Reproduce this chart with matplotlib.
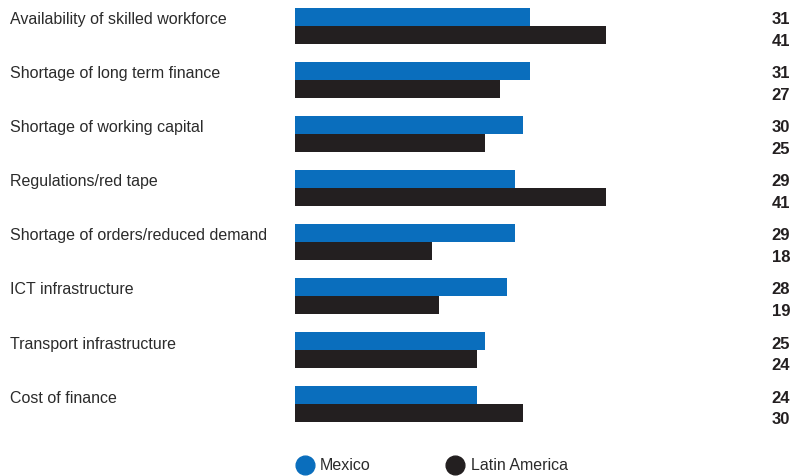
import matplotlib
matplotlib.use("Agg")
import matplotlib.pyplot as plt
from matplotlib.lines import Line2D
import matplotlib.transforms as mtransforms

categories = [
    "Availability of skilled workforce",
    "Shortage of long term finance",
    "Shortage of working capital",
    "Regulations/red tape",
    "Shortage of orders/reduced demand",
    "ICT infrastructure",
    "Transport infrastructure",
    "Cost of finance",
]
mexico = [31, 31, 30, 29, 29, 28, 25, 24]
latin_america = [41, 27, 25, 41, 18, 19, 24, 30]
series_names = ["Mexico", "Latin America"]

BLUE = "#0A6EBD"
DARK = "#231F20"
TEXT = "#2B2B2B"

plt.rcParams["font.family"] = ["Liberation Sans", "DejaVu Sans"]
FS = 11.5

W, H = 805, 477
fig = plt.figure(figsize=(W / 100, H / 100), dpi=100)

left_px, right_px = 295, 790
top_px, bottom_px = 8.4, 423.5
ax = fig.add_axes([left_px / W, 1 - bottom_px / H,
                   (right_px - left_px) / W, (bottom_px - top_px) / H])

bar_h = 1 / 3
ys = list(range(len(categories)))
ax.barh([y - bar_h / 2 for y in ys], mexico, height=bar_h, color=BLUE)
ax.barh([y + bar_h / 2 for y in ys], latin_america, height=bar_h, color=DARK)

ax.set_xlim(0, (right_px - left_px) / 7.585)
ax.set_ylim(len(categories) - 1 + 0.34, -0.34)
ax.axis("off")

# category names in the left margin, level with the first bar of each pair
lab_tf = mtransforms.blended_transform_factory(fig.transFigure, ax.transData)
for y, name in zip(ys, categories):
    ax.text(10 / W, y - 0.13, name, transform=lab_tf, ha="left",
            va="center", fontsize=FS, color=TEXT)

# values right-aligned at the right edge
val_tf = mtransforms.blended_transform_factory(ax.transAxes, ax.transData)
for y, m, l in zip(ys, mexico, latin_america):
    ax.text(1.0, y - 0.13, str(m), transform=val_tf, ha="right",
            va="center", fontsize=FS + 0.5, fontweight="bold", color=DARK)
    ax.text(1.0, y + 0.27, str(l), transform=val_tf, ha="right",
            va="center", fontsize=FS + 0.5, fontweight="bold", color=DARK)

# legend
leg_y = 1 - 466 / H
for x_px, text_px, color, name in [(305, 320, BLUE, series_names[0]),
                                    (455, 471, DARK, series_names[1])]:
    fig.add_artist(Line2D([x_px / W], [leg_y], marker="o", markersize=13.5,
                          color=color, linestyle="none", transform=fig.transFigure))
    fig.text(text_px / W, leg_y, name, ha="left", va="center",
             fontsize=FS, color=TEXT)

fig.savefig("out.png", dpi=100)
